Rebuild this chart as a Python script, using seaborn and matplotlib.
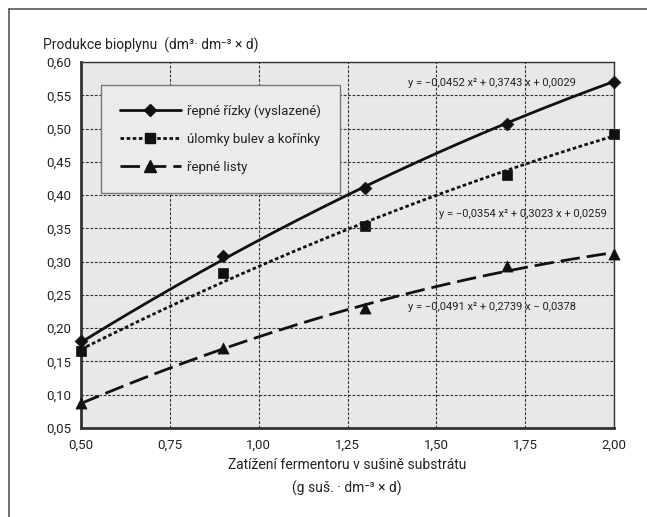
import numpy as np
import pandas as pd
import matplotlib
matplotlib.use("Agg")
import matplotlib.pyplot as plt
from matplotlib.lines import Line2D
from matplotlib.ticker import FuncFormatter, FixedLocator
import seaborn as sns

# ---- data ----
x_vals = [0.5, 0.9, 1.3, 1.7, 2.0]
rizky = [0.180, 0.308, 0.410, 0.507, 0.570]
ulomky = [0.165, 0.283, 0.353, 0.430, 0.492]
listy = [0.088, 0.170, 0.230, 0.293, 0.312]
series_names = ["řepné řízky (vyslazené)", "úlomky bulev a kořínky", "řepné listy"]
# quadratic trend coefficients (a, b, c) as printed in the chart
coef_rizky = [-0.0452, 0.3743, 0.0029]
coef_ulomky = [-0.0354, 0.3023, 0.0259]
coef_listy = [-0.0491, 0.2739, -0.0378]
eq_texts = [
    "y = \u22120,0452 x\u00b2 + 0,3743 x + 0,0029",
    "y = \u22120,0354 x\u00b2 + 0,3023 x + 0,0259",
    "y = \u22120,0491 x\u00b2 + 0,2739 x \u2212 0,0378",
]
x_ticks = [0.50, 0.75, 1.00, 1.25, 1.50, 1.75, 2.00]
y_ticks = [0.05, 0.10, 0.15, 0.20, 0.25, 0.30, 0.35, 0.40, 0.45, 0.50, 0.55, 0.60]

sns.set_style("white")
plt.rcParams['font.family'] = ['Roboto', 'DejaVu Sans']

fig = plt.figure(figsize=(6.47, 5.17), dpi=100)
ax = fig.add_axes([81/647, 1-428/517, (614-81)/647, (428-62)/517])
ax.set_facecolor("#e7e8ea")

pts = pd.DataFrame({"x": x_vals * 3,
                    "y": rizky + ulomky + listy,
                    "s": sum([[n] * len(x_vals) for n in series_names], [])})

xs = np.linspace(0.5, 2.0, 200)
styles = [
    dict(dashes=None, marker="D", ms=6.5),
    dict(dashes=(1.3, 0.9), marker="s", ms=6.5),
    dict(dashes=(7, 2.5), marker="^", ms=8),
]
coefs = [coef_rizky, coef_ulomky, coef_listy]
handles = []
for name, cf, st in zip(series_names, coefs, styles):
    ys = np.polyval(cf, xs)
    tdf = pd.DataFrame({"x": xs, "y": ys})
    sns.lineplot(data=tdf, x="x", y="y", ax=ax, color="#111111", lw=2.0, legend=False, zorder=3)
    ln = ax.lines[-1]
    if st["dashes"] is not None:
        ln.set_dashes(st["dashes"])
    sub = pts[pts["s"] == name]
    sns.scatterplot(data=sub, x="x", y="y", ax=ax, marker=st["marker"], s=st["ms"] ** 2,
                    color="#111111", edgecolor="#111111", linewidth=0.5, legend=False,
                    zorder=4, clip_on=False)
    h = Line2D([0], [0], color="#111111", lw=2.0, marker=st["marker"], ms=st["ms"])
    if st["dashes"] is not None:
        h.set_dashes(st["dashes"])
    handles.append(h)

ax.set_xlim(0.5, 2.0)
ax.set_ylim(0.05, 0.60)
ax.xaxis.set_major_locator(FixedLocator(x_ticks))
ax.yaxis.set_major_locator(FixedLocator(y_ticks))
fmt = FuncFormatter(lambda v, p: f"{v:.2f}".replace(".", ","))
ax.xaxis.set_major_formatter(fmt)
ax.yaxis.set_major_formatter(fmt)
ax.tick_params(axis="both", labelsize=9.5, color="#333333", length=4, width=1,
               direction="out", labelcolor="#222222")
ax.tick_params(axis="x", pad=4)
ax.tick_params(axis="y", pad=3)
ax.grid(True, color="#333333", ls=(0, (2.5, 1.5)), lw=0.8)
ax.set_axisbelow(True)
for s in ["top", "right"]:
    ax.spines[s].set_color("#333333")
    ax.spines[s].set_linewidth(1.0)
for s in ["left", "bottom"]:
    ax.spines[s].set_color("#333333")
    ax.spines[s].set_linewidth(2.0)
ax.set_xlabel("")
ax.set_ylabel("")

leg = ax.legend(handles, series_names, loc="upper left",
                bbox_to_anchor=((101-81)/(614-81), (428-85)/(428-62)),
                borderaxespad=0.0,
                fontsize=9.5, frameon=True, fancybox=False, handlelength=4.6,
                labelspacing=1.15, borderpad=1.45, handletextpad=0.45,
                facecolor="#ebebeb", edgecolor="#777777", framealpha=1.0)
leg.get_frame().set_linewidth(1.0)
for t in leg.get_texts():
    t.set_color("#222222")

# equations
fig.text(408/647, 1-83/517, eq_texts[0], fontsize=8, va="center", ha="left", color="#222222")
fig.text(439/647, 1-214/517, eq_texts[1], fontsize=8, va="center", ha="left", color="#222222")
fig.text(408/647, 1-307/517, eq_texts[2], fontsize=8, va="center", ha="left", color="#222222")

# titles
fig.text(43/647, 1-45/517, "Produkce bioplynu  (dm\u00b3\u00b7 dm\u207b\u00b3 \u00d7 d)",
         fontsize=10, va="center", ha="left", color="#222222")
fig.text(347/647, 1-465/517, "Zatížení fermentoru v sušině substrátu",
         fontsize=10, va="center", ha="center", color="#222222")
fig.text(347/647, 1-488/517, "(g suš. \u00b7 dm\u207b\u00b3 \u00d7 d)",
         fontsize=10, va="center", ha="center", color="#222222")

# partial frame (top and left edges)
fig.add_artist(Line2D([9/647, 1.0], [1-9/517, 1-9/517], transform=fig.transFigure, color="#555555", lw=1.2))
fig.add_artist(Line2D([9/647, 9/647], [0.0, 1-9/517], transform=fig.transFigure, color="#555555", lw=1.2))

fig.savefig("out.png", dpi=100, facecolor="white")
